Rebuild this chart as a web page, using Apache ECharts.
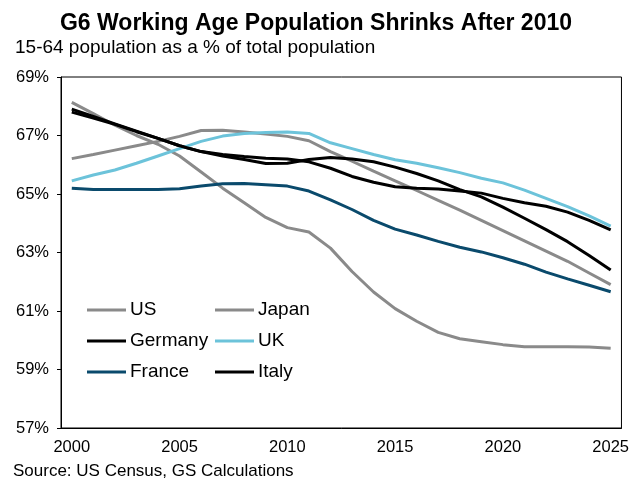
<!DOCTYPE html>
<html>
<head>
<meta charset="utf-8">
<script src="https://cdn.jsdelivr.net/npm/echarts@6/dist/echarts.min.js"></script>
<style>html,body{margin:0;padding:0;background:#fff}#c{width:632px;height:482px}</style>
</head>
<body>
<div id="c"></div>
<script>
const years = ['2000','2001','2002','2003','2004','2005','2006','2007','2008','2009','2010','2011','2012','2013','2014','2015','2016','2017','2018','2019','2020','2021','2022','2023','2024','2025'];
const us      = [66.21,66.35,66.5,66.65,66.8,66.97,67.17,67.18,67.12,67.05,66.97,66.82,66.45,66.12,65.78,65.45,65.12,64.78,64.45,64.1,63.75,63.4,63.05,62.7,62.3,61.9];
const japan   = [68.13,67.75,67.35,67.0,66.7,66.3,65.75,65.2,64.7,64.2,63.85,63.7,63.15,62.35,61.65,61.08,60.65,60.27,60.05,59.95,59.85,59.78,59.78,59.78,59.77,59.73];
const germany = [67.9,67.65,67.4,67.15,66.9,66.65,66.45,66.3,66.18,66.04,66.05,66.18,66.25,66.2,66.1,65.92,65.7,65.45,65.15,64.9,64.55,64.17,63.78,63.37,62.9,62.4];
const uk      = [65.45,65.65,65.82,66.05,66.3,66.55,66.8,66.98,67.07,67.1,67.12,67.07,66.75,66.55,66.35,66.17,66.05,65.9,65.73,65.54,65.38,65.13,64.85,64.57,64.25,63.9];
const france  = [65.2,65.15,65.15,65.15,65.15,65.18,65.27,65.35,65.36,65.32,65.27,65.1,64.8,64.47,64.1,63.8,63.6,63.38,63.18,63.02,62.82,62.6,62.33,62.1,61.88,61.66];
const italy   = [67.8,67.6,67.38,67.13,66.9,66.65,66.45,66.35,66.28,66.22,66.2,66.1,65.88,65.6,65.4,65.25,65.2,65.17,65.1,65.03,64.85,64.7,64.58,64.38,64.1,63.77];

const FONT = 'Liberation Sans, Arial, sans-serif';
const names = ['US','Japan','Germany','UK','France','Italy'];
const colors = ['#8a8a8a','#8a8a8a','#000000','#6cc3da','#0a4a6c','#000000'];
const datas = [us, japan, germany, uk, france, italy];

const legendCommon = {
  orient: 'vertical', top: 295.5, itemWidth: 39, itemHeight: 3, itemGap: 12, icon: 'rect',
  padding: 5,
  textStyle: {fontFamily: FONT, fontSize: 19, lineHeight: 19, color: '#000', padding: [0, 0, 0, -1]}
};

const chart = echarts.init(document.getElementById('c'), null, {renderer:'canvas'});
chart.setOption({
  animation: false,
  backgroundColor: '#fff',
  title: [
    {text: 'G6 Working Age Population Shrinks After 2010', left: 'center', top: 7,
     textStyle: {fontFamily: FONT, fontSize: 23, fontWeight: 'bold', color: '#000'}},
    {text: '15-64 population as a % of total population', left: 10, top: 33.5,
     textStyle: {fontFamily: FONT, fontSize: 19, fontWeight: 'normal', color: '#000'}},
    {text: 'Source: US Census, GS Calculations', left: 8, top: 458,
     textStyle: {fontFamily: FONT, fontSize: 17, fontWeight: 'normal', color: '#000'}}
  ],
  grid: {left: 61, right: 9, top: 77, bottom: 54, show: true, borderColor: '#000', borderWidth: 1},
  legend: [
    Object.assign({left: 82, data: ['US','Germany','France']}, legendCommon),
    Object.assign({left: 210, data: ['Japan','UK','Italy']}, legendCommon)
  ],
  xAxis: {
    type: 'category', data: years, boundaryGap: true,
    axisLine: {lineStyle: {color: '#000', width: 1}},
    axisTick: {show: false},
    axisLabel: {interval: 4, margin: 11, fontFamily: FONT, fontSize: 16.5, color: '#000'},
    splitLine: {show: false}
  },
  yAxis: {
    type: 'value', min: 57, max: 69, interval: 2,
    axisLine: {show: true, lineStyle: {color: '#000', width: 1}},
    axisTick: {show: true, inside: false, length: 4, lineStyle: {color: '#000'}},
    axisLabel: {formatter: '{value}%', margin: 12, fontFamily: FONT, fontSize: 16.5, color: '#000'},
    splitLine: {show: false}
  },
  series: names.map((n, i) => ({
    name: n, type: 'line', data: datas[i], symbol: 'none', smooth: false,
    lineStyle: {color: colors[i], width: 3},
    itemStyle: {color: colors[i]}
  }))
});
</script>
</body>
</html>
